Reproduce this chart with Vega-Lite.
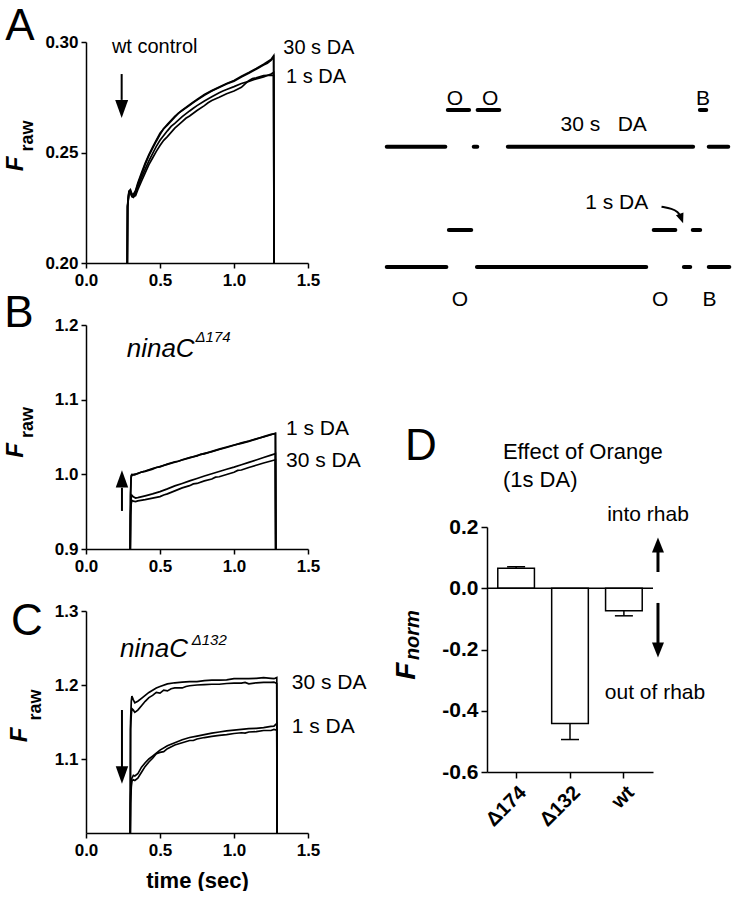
{
"$schema": "https://vega.github.io/schema/vega-lite/v6.json",
"background": "white",
"padding": {"left": 4, "top": 5, "right": 0, "bottom": 0},
"config": {
  "font": "Liberation Sans",
  "view": {"stroke": null},
  "axis": {"grid": false, "domainColor": "black", "domainWidth": 1.5, "tickColor": "black", "tickWidth": 1.5, "tickSize": 5, "labelColor": "black", "labelFont": "Liberation Sans", "labelFontWeight": "bold", "labelFontSize": 17, "labelPadding": 3, "labelFlush": false, "labelOverlap": false, "titleColor": "black", "titleFont": "Liberation Sans", "titleFontWeight": "bold", "titleFontSize": 22},
  "axisX": {"labelPadding": 4},
  "text": {"color": "black", "font": "Liberation Sans"},
  "line": {"color": "black"},
  "rule": {"color": "black"}
},
"datasets": {
  "traceA": [
    {"t":0.279,"f":0.2,"s":"30a"},{"t":0.281,"f":0.2265,"s":"30a"},{"t":0.29,"f":0.2325,"s":"30a"},{"t":0.3,"f":0.2332,"s":"30a"},{"t":0.31,"f":0.2313,"s":"30a"},{"t":0.32,"f":0.231,"s":"30a"},{"t":0.335,"f":0.2328,"s":"30a"},{"t":0.35,"f":0.2362,"s":"30a"},{"t":0.375,"f":0.2408,"s":"30a"},{"t":0.4,"f":0.2452,"s":"30a"},{"t":0.425,"f":0.249,"s":"30a"},{"t":0.45,"f":0.2524,"s":"30a"},{"t":0.475,"f":0.2556,"s":"30a"},{"t":0.5,"f":0.2587,"s":"30a"},{"t":0.55,"f":0.2628,"s":"30a"},{"t":0.6,"f":0.2664,"s":"30a"},{"t":0.65,"f":0.2692,"s":"30a"},{"t":0.7,"f":0.2716,"s":"30a"},{"t":0.75,"f":0.274,"s":"30a"},{"t":0.8,"f":0.2762,"s":"30a"},{"t":0.85,"f":0.278,"s":"30a"},{"t":0.9,"f":0.2796,"s":"30a"},{"t":0.95,"f":0.2812,"s":"30a"},{"t":1.0,"f":0.2826,"s":"30a"},{"t":1.05,"f":0.2845,"s":"30a"},{"t":1.1,"f":0.2862,"s":"30a"},{"t":1.15,"f":0.288,"s":"30a"},{"t":1.2,"f":0.2899,"s":"30a"},{"t":1.25,"f":0.2921,"s":"30a"},{"t":1.268,"f":0.2938,"s":"30a"},{"t":1.27,"f":0.2,"s":"30a"},
    {"t":0.279,"f":0.2,"s":"30b"},{"t":0.281,"f":0.2258,"s":"30b"},{"t":0.29,"f":0.2322,"s":"30b"},{"t":0.3,"f":0.2326,"s":"30b"},{"t":0.31,"f":0.2306,"s":"30b"},{"t":0.32,"f":0.2304,"s":"30b"},{"t":0.335,"f":0.2322,"s":"30b"},{"t":0.35,"f":0.2355,"s":"30b"},{"t":0.375,"f":0.24,"s":"30b"},{"t":0.4,"f":0.2446,"s":"30b"},{"t":0.425,"f":0.2486,"s":"30b"},{"t":0.45,"f":0.2519,"s":"30b"},{"t":0.475,"f":0.2551,"s":"30b"},{"t":0.5,"f":0.2581,"s":"30b"},{"t":0.525,"f":0.2608,"s":"30b"},{"t":0.55,"f":0.2624,"s":"30b"},{"t":0.6,"f":0.266,"s":"30b"},{"t":0.625,"f":0.2678,"s":"30b"},{"t":0.65,"f":0.269,"s":"30b"},{"t":0.7,"f":0.2713,"s":"30b"},{"t":0.725,"f":0.2726,"s":"30b"},{"t":0.75,"f":0.2737,"s":"30b"},{"t":0.8,"f":0.2759,"s":"30b"},{"t":0.85,"f":0.2778,"s":"30b"},{"t":0.875,"f":0.2786,"s":"30b"},{"t":0.9,"f":0.2794,"s":"30b"},{"t":0.95,"f":0.281,"s":"30b"},{"t":1.0,"f":0.2823,"s":"30b"},{"t":1.05,"f":0.2842,"s":"30b"},{"t":1.1,"f":0.2859,"s":"30b"},{"t":1.15,"f":0.2877,"s":"30b"},{"t":1.2,"f":0.2896,"s":"30b"},{"t":1.225,"f":0.2904,"s":"30b"},{"t":1.25,"f":0.2917,"s":"30b"},{"t":1.268,"f":0.2932,"s":"30b"},{"t":1.27,"f":0.2,"s":"30b"},
    {"t":0.279,"f":0.2,"s":"1a"},{"t":0.281,"f":0.2255,"s":"1a"},{"t":0.29,"f":0.2318,"s":"1a"},{"t":0.3,"f":0.232,"s":"1a"},{"t":0.31,"f":0.23,"s":"1a"},{"t":0.32,"f":0.2297,"s":"1a"},{"t":0.335,"f":0.2312,"s":"1a"},{"t":0.35,"f":0.2345,"s":"1a"},{"t":0.375,"f":0.2385,"s":"1a"},{"t":0.4,"f":0.2425,"s":"1a"},{"t":0.425,"f":0.2462,"s":"1a"},{"t":0.45,"f":0.2495,"s":"1a"},{"t":0.475,"f":0.2528,"s":"1a"},{"t":0.5,"f":0.2555,"s":"1a"},{"t":0.55,"f":0.2598,"s":"1a"},{"t":0.575,"f":0.2618,"s":"1a"},{"t":0.6,"f":0.2632,"s":"1a"},{"t":0.65,"f":0.2662,"s":"1a"},{"t":0.7,"f":0.2688,"s":"1a"},{"t":0.725,"f":0.27,"s":"1a"},{"t":0.75,"f":0.2712,"s":"1a"},{"t":0.8,"f":0.2733,"s":"1a"},{"t":0.85,"f":0.2752,"s":"1a"},{"t":0.9,"f":0.277,"s":"1a"},{"t":0.925,"f":0.2778,"s":"1a"},{"t":0.95,"f":0.2785,"s":"1a"},{"t":1.0,"f":0.2798,"s":"1a"},{"t":1.05,"f":0.2812,"s":"1a"},{"t":1.1,"f":0.2822,"s":"1a"},{"t":1.15,"f":0.2833,"s":"1a"},{"t":1.2,"f":0.2842,"s":"1a"},{"t":1.25,"f":0.2855,"s":"1a"},{"t":1.268,"f":0.2862,"s":"1a"},{"t":1.27,"f":0.2,"s":"1a"},
    {"t":0.279,"f":0.2,"s":"1b"},{"t":0.281,"f":0.2252,"s":"1b"},{"t":0.29,"f":0.2315,"s":"1b"},{"t":0.3,"f":0.2318,"s":"1b"},{"t":0.31,"f":0.2302,"s":"1b"},{"t":0.32,"f":0.23,"s":"1b"},{"t":0.335,"f":0.2305,"s":"1b"},{"t":0.35,"f":0.2332,"s":"1b"},{"t":0.375,"f":0.237,"s":"1b"},{"t":0.4,"f":0.2408,"s":"1b"},{"t":0.425,"f":0.2445,"s":"1b"},{"t":0.45,"f":0.2475,"s":"1b"},{"t":0.475,"f":0.2505,"s":"1b"},{"t":0.5,"f":0.2532,"s":"1b"},{"t":0.525,"f":0.2555,"s":"1b"},{"t":0.55,"f":0.2572,"s":"1b"},{"t":0.6,"f":0.261,"s":"1b"},{"t":0.65,"f":0.264,"s":"1b"},{"t":0.675,"f":0.2655,"s":"1b"},{"t":0.7,"f":0.2665,"s":"1b"},{"t":0.75,"f":0.269,"s":"1b"},{"t":0.8,"f":0.2712,"s":"1b"},{"t":0.825,"f":0.2725,"s":"1b"},{"t":0.85,"f":0.2735,"s":"1b"},{"t":0.9,"f":0.275,"s":"1b"},{"t":0.95,"f":0.2766,"s":"1b"},{"t":1.0,"f":0.2778,"s":"1b"},{"t":1.05,"f":0.2795,"s":"1b"},{"t":1.075,"f":0.281,"s":"1b"},{"t":1.1,"f":0.2825,"s":"1b"},{"t":1.125,"f":0.2835,"s":"1b"},{"t":1.15,"f":0.2838,"s":"1b"},{"t":1.2,"f":0.2848,"s":"1b"},{"t":1.25,"f":0.285,"s":"1b"},{"t":1.268,"f":0.2848,"s":"1b"},{"t":1.27,"f":0.2,"s":"1b"}
  ],
  "traceB": [
    {"t":0.299,"f":0.9,"s":"1a"},{"t":0.301,"f":0.975,"s":"1a"},{"t":0.305,"f":0.998,"s":"1a"},{"t":0.31,"f":1.0,"s":"1a"},{"t":0.33,"f":0.9993,"s":"1a"},{"t":0.35,"f":1.0015,"s":"1a"},{"t":0.4,"f":1.0045,"s":"1a"},{"t":0.45,"f":1.0078,"s":"1a"},{"t":0.5,"f":1.0105,"s":"1a"},{"t":0.55,"f":1.0133,"s":"1a"},{"t":0.6,"f":1.0162,"s":"1a"},{"t":0.65,"f":1.0192,"s":"1a"},{"t":0.7,"f":1.0221,"s":"1a"},{"t":0.75,"f":1.0251,"s":"1a"},{"t":0.8,"f":1.028,"s":"1a"},{"t":0.85,"f":1.0303,"s":"1a"},{"t":0.9,"f":1.0333,"s":"1a"},{"t":0.95,"f":1.036,"s":"1a"},{"t":1.0,"f":1.039,"s":"1a"},{"t":1.05,"f":1.0421,"s":"1a"},{"t":1.1,"f":1.0447,"s":"1a"},{"t":1.15,"f":1.0476,"s":"1a"},{"t":1.2,"f":1.05,"s":"1a"},{"t":1.25,"f":1.053,"s":"1a"},{"t":1.28,"f":1.0552,"s":"1a"},{"t":1.282,"f":0.9,"s":"1a"},
    {"t":0.299,"f":0.9,"s":"1b"},{"t":0.301,"f":0.97,"s":"1b"},{"t":0.305,"f":0.996,"s":"1b"},{"t":0.31,"f":0.9985,"s":"1b"},{"t":0.33,"f":1.0002,"s":"1b"},{"t":0.35,"f":1.0008,"s":"1b"},{"t":0.375,"f":1.003,"s":"1b"},{"t":0.4,"f":1.004,"s":"1b"},{"t":0.45,"f":1.007,"s":"1b"},{"t":0.475,"f":1.0092,"s":"1b"},{"t":0.5,"f":1.01,"s":"1b"},{"t":0.55,"f":1.0138,"s":"1b"},{"t":0.6,"f":1.0168,"s":"1b"},{"t":0.625,"f":1.0175,"s":"1b"},{"t":0.65,"f":1.0195,"s":"1b"},{"t":0.7,"f":1.0225,"s":"1b"},{"t":0.75,"f":1.0245,"s":"1b"},{"t":0.775,"f":1.0268,"s":"1b"},{"t":0.8,"f":1.0275,"s":"1b"},{"t":0.85,"f":1.0308,"s":"1b"},{"t":0.9,"f":1.0338,"s":"1b"},{"t":0.95,"f":1.0366,"s":"1b"},{"t":1.0,"f":1.0393,"s":"1b"},{"t":1.05,"f":1.0414,"s":"1b"},{"t":1.1,"f":1.0442,"s":"1b"},{"t":1.15,"f":1.0471,"s":"1b"},{"t":1.2,"f":1.0505,"s":"1b"},{"t":1.25,"f":1.0535,"s":"1b"},{"t":1.28,"f":1.0545,"s":"1b"},{"t":1.282,"f":0.9,"s":"1b"},
    {"t":0.299,"f":0.9,"s":"30a"},{"t":0.301,"f":0.95,"s":"30a"},{"t":0.305,"f":0.968,"s":"30a"},{"t":0.31,"f":0.972,"s":"30a"},{"t":0.32,"f":0.97,"s":"30a"},{"t":0.335,"f":0.9682,"s":"30a"},{"t":0.35,"f":0.9688,"s":"30a"},{"t":0.4,"f":0.9712,"s":"30a"},{"t":0.45,"f":0.9738,"s":"30a"},{"t":0.5,"f":0.9768,"s":"30a"},{"t":0.55,"f":0.9805,"s":"30a"},{"t":0.6,"f":0.9845,"s":"30a"},{"t":0.65,"f":0.9878,"s":"30a"},{"t":0.7,"f":0.9912,"s":"30a"},{"t":0.75,"f":0.9945,"s":"30a"},{"t":0.8,"f":0.9978,"s":"30a"},{"t":0.85,"f":1.0008,"s":"30a"},{"t":0.9,"f":1.0038,"s":"30a"},{"t":0.95,"f":1.0068,"s":"30a"},{"t":1.0,"f":1.0096,"s":"30a"},{"t":1.05,"f":1.0128,"s":"30a"},{"t":1.1,"f":1.016,"s":"30a"},{"t":1.15,"f":1.0192,"s":"30a"},{"t":1.2,"f":1.0226,"s":"30a"},{"t":1.25,"f":1.0258,"s":"30a"},{"t":1.28,"f":1.0276,"s":"30a"},{"t":1.282,"f":0.9,"s":"30a"},
    {"t":0.299,"f":0.9,"s":"30b"},{"t":0.301,"f":0.945,"s":"30b"},{"t":0.305,"f":0.96,"s":"30b"},{"t":0.31,"f":0.965,"s":"30b"},{"t":0.32,"f":0.9642,"s":"30b"},{"t":0.335,"f":0.9636,"s":"30b"},{"t":0.35,"f":0.9645,"s":"30b"},{"t":0.4,"f":0.9662,"s":"30b"},{"t":0.45,"f":0.9682,"s":"30b"},{"t":0.5,"f":0.9702,"s":"30b"},{"t":0.525,"f":0.9724,"s":"30b"},{"t":0.55,"f":0.9738,"s":"30b"},{"t":0.6,"f":0.9778,"s":"30b"},{"t":0.65,"f":0.9818,"s":"30b"},{"t":0.7,"f":0.9848,"s":"30b"},{"t":0.725,"f":0.9872,"s":"30b"},{"t":0.75,"f":0.9878,"s":"30b"},{"t":0.8,"f":0.9912,"s":"30b"},{"t":0.85,"f":0.9938,"s":"30b"},{"t":0.875,"f":0.9962,"s":"30b"},{"t":0.9,"f":0.9968,"s":"30b"},{"t":0.95,"f":0.9998,"s":"30b"},{"t":1.0,"f":1.0028,"s":"30b"},{"t":1.025,"f":1.0052,"s":"30b"},{"t":1.05,"f":1.0058,"s":"30b"},{"t":1.1,"f":1.0092,"s":"30b"},{"t":1.15,"f":1.0122,"s":"30b"},{"t":1.2,"f":1.0152,"s":"30b"},{"t":1.25,"f":1.0178,"s":"30b"},{"t":1.28,"f":1.0195,"s":"30b"},{"t":1.282,"f":0.9,"s":"30b"}
  ],
  "traceC": [
    {"t":0.299,"f":1.0,"s":"30a"},{"t":0.301,"f":1.15,"s":"30a"},{"t":0.306,"f":1.178,"s":"30a"},{"t":0.31,"f":1.185,"s":"30a"},{"t":0.32,"f":1.18,"s":"30a"},{"t":0.33,"f":1.176,"s":"30a"},{"t":0.35,"f":1.178,"s":"30a"},{"t":0.375,"f":1.182,"s":"30a"},{"t":0.4,"f":1.186,"s":"30a"},{"t":0.425,"f":1.19,"s":"30a"},{"t":0.45,"f":1.193,"s":"30a"},{"t":0.475,"f":1.196,"s":"30a"},{"t":0.5,"f":1.198,"s":"30a"},{"t":0.55,"f":1.2015,"s":"30a"},{"t":0.6,"f":1.203,"s":"30a"},{"t":0.65,"f":1.204,"s":"30a"},{"t":0.7,"f":1.2045,"s":"30a"},{"t":0.75,"f":1.2045,"s":"30a"},{"t":0.8,"f":1.206,"s":"30a"},{"t":0.85,"f":1.2065,"s":"30a"},{"t":0.9,"f":1.2065,"s":"30a"},{"t":0.95,"f":1.207,"s":"30a"},{"t":1.0,"f":1.2085,"s":"30a"},{"t":1.05,"f":1.2085,"s":"30a"},{"t":1.1,"f":1.2085,"s":"30a"},{"t":1.15,"f":1.209,"s":"30a"},{"t":1.2,"f":1.21,"s":"30a"},{"t":1.25,"f":1.209,"s":"30a"},{"t":1.27,"f":1.2085,"s":"30a"},{"t":1.289,"f":1.21,"s":"30a"},{"t":1.291,"f":1.0,"s":"30a"},
    {"t":0.299,"f":1.0,"s":"30b"},{"t":0.301,"f":1.14,"s":"30b"},{"t":0.306,"f":1.16,"s":"30b"},{"t":0.31,"f":1.168,"s":"30b"},{"t":0.32,"f":1.166,"s":"30b"},{"t":0.33,"f":1.163,"s":"30b"},{"t":0.35,"f":1.166,"s":"30b"},{"t":0.375,"f":1.172,"s":"30b"},{"t":0.4,"f":1.178,"s":"30b"},{"t":0.425,"f":1.183,"s":"30b"},{"t":0.45,"f":1.186,"s":"30b"},{"t":0.475,"f":1.19,"s":"30b"},{"t":0.5,"f":1.189,"s":"30b"},{"t":0.525,"f":1.193,"s":"30b"},{"t":0.55,"f":1.192,"s":"30b"},{"t":0.575,"f":1.195,"s":"30b"},{"t":0.6,"f":1.196,"s":"30b"},{"t":0.65,"f":1.196,"s":"30b"},{"t":0.675,"f":1.198,"s":"30b"},{"t":0.7,"f":1.199,"s":"30b"},{"t":0.75,"f":1.2,"s":"30b"},{"t":0.8,"f":1.2005,"s":"30b"},{"t":0.85,"f":1.201,"s":"30b"},{"t":0.9,"f":1.201,"s":"30b"},{"t":0.95,"f":1.202,"s":"30b"},{"t":1.0,"f":1.2025,"s":"30b"},{"t":1.05,"f":1.2025,"s":"30b"},{"t":1.075,"f":1.2035,"s":"30b"},{"t":1.1,"f":1.2015,"s":"30b"},{"t":1.15,"f":1.203,"s":"30b"},{"t":1.2,"f":1.2035,"s":"30b"},{"t":1.25,"f":1.2035,"s":"30b"},{"t":1.27,"f":1.204,"s":"30b"},{"t":1.289,"f":1.202,"s":"30b"},{"t":1.291,"f":1.0,"s":"30b"},
    {"t":0.299,"f":1.0,"s":"1a"},{"t":0.301,"f":1.05,"s":"1a"},{"t":0.306,"f":1.068,"s":"1a"},{"t":0.31,"f":1.074,"s":"1a"},{"t":0.32,"f":1.078,"s":"1a"},{"t":0.33,"f":1.077,"s":"1a"},{"t":0.35,"f":1.08,"s":"1a"},{"t":0.375,"f":1.089,"s":"1a"},{"t":0.4,"f":1.095,"s":"1a"},{"t":0.425,"f":1.1,"s":"1a"},{"t":0.45,"f":1.104,"s":"1a"},{"t":0.475,"f":1.108,"s":"1a"},{"t":0.5,"f":1.112,"s":"1a"},{"t":0.55,"f":1.118,"s":"1a"},{"t":0.6,"f":1.122,"s":"1a"},{"t":0.65,"f":1.126,"s":"1a"},{"t":0.7,"f":1.129,"s":"1a"},{"t":0.75,"f":1.131,"s":"1a"},{"t":0.8,"f":1.133,"s":"1a"},{"t":0.85,"f":1.135,"s":"1a"},{"t":0.9,"f":1.1365,"s":"1a"},{"t":0.95,"f":1.138,"s":"1a"},{"t":1.0,"f":1.139,"s":"1a"},{"t":1.05,"f":1.14,"s":"1a"},{"t":1.1,"f":1.141,"s":"1a"},{"t":1.15,"f":1.1415,"s":"1a"},{"t":1.2,"f":1.1425,"s":"1a"},{"t":1.25,"f":1.144,"s":"1a"},{"t":1.27,"f":1.1445,"s":"1a"},{"t":1.289,"f":1.148,"s":"1a"},{"t":1.291,"f":1.0,"s":"1a"},
    {"t":0.299,"f":1.0,"s":"1b"},{"t":0.301,"f":1.04,"s":"1b"},{"t":0.306,"f":1.062,"s":"1b"},{"t":0.31,"f":1.07,"s":"1b"},{"t":0.32,"f":1.072,"s":"1b"},{"t":0.33,"f":1.071,"s":"1b"},{"t":0.35,"f":1.074,"s":"1b"},{"t":0.375,"f":1.082,"s":"1b"},{"t":0.4,"f":1.09,"s":"1b"},{"t":0.425,"f":1.096,"s":"1b"},{"t":0.45,"f":1.101,"s":"1b"},{"t":0.475,"f":1.107,"s":"1b"},{"t":0.5,"f":1.109,"s":"1b"},{"t":0.525,"f":1.11,"s":"1b"},{"t":0.55,"f":1.114,"s":"1b"},{"t":0.6,"f":1.119,"s":"1b"},{"t":0.65,"f":1.122,"s":"1b"},{"t":0.7,"f":1.125,"s":"1b"},{"t":0.725,"f":1.125,"s":"1b"},{"t":0.75,"f":1.127,"s":"1b"},{"t":0.8,"f":1.129,"s":"1b"},{"t":0.85,"f":1.1305,"s":"1b"},{"t":0.9,"f":1.132,"s":"1b"},{"t":0.95,"f":1.133,"s":"1b"},{"t":1.0,"f":1.1345,"s":"1b"},{"t":1.05,"f":1.1355,"s":"1b"},{"t":1.075,"f":1.135,"s":"1b"},{"t":1.1,"f":1.1365,"s":"1b"},{"t":1.15,"f":1.137,"s":"1b"},{"t":1.2,"f":1.1385,"s":"1b"},{"t":1.25,"f":1.1385,"s":"1b"},{"t":1.27,"f":1.14,"s":"1b"},{"t":1.289,"f":1.139,"s":"1b"},{"t":1.291,"f":1.0,"s":"1b"}
  ],
  "protocol": [
    {"x":19.1,"x2":25.1,"y":10},{"x":27.5,"x2":33.6,"y":10},{"x":90.1,"x2":91.9,"y":10},
    {"x":1.9,"x2":18.4,"y":8.9},{"x":26.4,"x2":27.4,"y":8.9},{"x":36.0,"x2":88.2,"y":8.9},{"x":92.6,"x2":98.1,"y":8.9},
    {"x":19.4,"x2":25.7,"y":6.4},{"x":77.1,"x2":83.2,"y":6.4},{"x":88.1,"x2":90.2,"y":6.4},
    {"x":1.9,"x2":18.7,"y":5.29},{"x":27.3,"x2":75.0,"y":5.29},{"x":85.6,"x2":87.4,"y":5.29},{"x":92.6,"x2":98.4,"y":5.29}
  ],
  "protocolLabels": [
    {"x":21.1,"y":10.33,"label":"O"},{"x":31.0,"y":10.33,"label":"O"},{"x":91.0,"y":10.33,"label":"B"},
    {"x":63.0,"y":9.55,"label":"30 s\u00a0\u00a0\u00a0DA"},{"x":66.7,"y":7.21,"label":"1 s DA"},
    {"x":22.5,"y":4.3,"label":"O"},{"x":78.9,"y":4.3,"label":"O"},{"x":92.8,"y":4.3,"label":"B"}
  ],
  "bars": [
    {"g":"Δ174","v":0.065,"e":0.07},
    {"g":"Δ132","v":-0.442,"e":-0.494},
    {"g":"wt","v":-0.0735,"e":-0.09}
  ],
  "caps": [
    {"g":"Δ174","v":0.07},
    {"g":"Δ132","v":-0.494},
    {"g":"wt","v":-0.09}
  ]
},
"bounds": "full",
"spacing": 17,
"hconcat": [
  {
    "bounds": "flush",
    "spacing": 62,
    "vconcat": [
      {
        "width": 222, "height": 221,
        "encoding": {
          "x": {"field": "t", "type": "quantitative", "scale": {"domain": [0, 1.5]}, "axis": {"values": [0, 0.5, 1, 1.5], "format": ".1f", "title": null}},
          "y": {"field": "f", "type": "quantitative", "scale": {"domain": [0.2, 0.3]}, "axis": {"values": [0.2, 0.25, 0.3], "format": ".2f", "title": null}}
        },
        "layer": [
          {"data": {"name": "traceA"}, "mark": {"type": "line", "strokeWidth": 1.7, "color": "black"}, "encoding": {"detail": {"field": "s"}}},
          {"data": {"values": [{"t": 0.241, "f": 0.2855, "f2": 0.2738}]}, "mark": {"type": "rule", "strokeWidth": 2}, "encoding": {"y2": {"field": "f2"}}},
          {"data": {"values": [{"t": 0.241, "f": 0.2697}]}, "mark": {"type": "point", "shape": "M-0.72,-1L0.72,-1L0,1Z", "size": 324, "filled": true, "color": "black", "opacity": 1}},
          {"data": {"values": [{"t": 0.464, "f": 0.2979}]}, "mark": {"type": "text", "text": "wt control", "fontSize": 20, "align": "center", "baseline": "middle"}},
          {"data": {"values": [{"t": 1.333, "f": 0.2971, "label": "30 s DA"}, {"t": 1.351, "f": 0.2843, "label": "1 s DA"}]}, "mark": {"type": "text", "fontSize": 20, "align": "left", "baseline": "middle"}, "encoding": {"text": {"field": "label"}}},
          {"data": {"values": [{"t": -0.472, "f": 0.2448}]}, "mark": {"type": "text", "text": "F", "fontSize": 24, "fontWeight": "bold", "fontStyle": "italic", "angle": 270, "align": "center", "baseline": "middle"}},
          {"data": {"values": [{"t": -0.39, "f": 0.2575}]}, "mark": {"type": "text", "text": "raw", "fontSize": 18, "fontWeight": "bold", "angle": 270, "align": "center", "baseline": "middle"}},
          {"data": {"values": [{"t": -0.446, "f": 0.30674}]}, "mark": {"type": "text", "text": "A", "fontSize": 44, "align": "center", "baseline": "middle"}}
        ]
      },
      {
        "width": 222, "height": 224,
        "encoding": {
          "x": {"field": "t", "type": "quantitative", "scale": {"domain": [0, 1.5]}, "axis": {"values": [0, 0.5, 1, 1.5], "format": ".1f", "title": null}},
          "y": {"field": "f", "type": "quantitative", "scale": {"domain": [0.9, 1.2]}, "axis": {"values": [0.9, 1.0, 1.1, 1.2], "format": ".1f", "title": null}}
        },
        "layer": [
          {"data": {"name": "traceB"}, "mark": {"type": "line", "strokeWidth": 1.7, "color": "black"}, "encoding": {"detail": {"field": "s"}}},
          {"data": {"values": [{"t": 0.243, "f": 0.951, "f2": 0.982}]}, "mark": {"type": "rule", "strokeWidth": 2}, "encoding": {"y2": {"field": "f2"}}},
          {"data": {"values": [{"t": 0.243, "f": 0.994}]}, "mark": {"type": "point", "shape": "M-0.72,1L0.72,1L0,-1Z", "size": 300, "filled": true, "color": "black", "opacity": 1}},
          {"data": {"values": [{"t": 0.275, "f": 1.1574}]}, "mark": {"type": "text", "text": "ninaC", "fontSize": 26, "fontStyle": "italic", "align": "left", "baseline": "alphabetic"}},
          {"data": {"values": [{"t": 0.74, "f": 1.1775}]}, "mark": {"type": "text", "text": "Δ174", "fontSize": 15, "fontStyle": "italic", "align": "left", "baseline": "alphabetic"}},
          {"data": {"values": [{"t": 1.351, "f": 1.061, "label": "1 s DA"}, {"t": 1.351, "f": 1.0183, "label": "30 s DA"}]}, "mark": {"type": "text", "fontSize": 21, "align": "left", "baseline": "middle"}, "encoding": {"text": {"field": "label"}}},
          {"data": {"values": [{"t": -0.472, "f": 1.032}]}, "mark": {"type": "text", "text": "F", "fontSize": 24, "fontWeight": "bold", "fontStyle": "italic", "angle": 270, "align": "center", "baseline": "middle"}},
          {"data": {"values": [{"t": -0.39, "f": 1.0695}]}, "mark": {"type": "text", "text": "raw", "fontSize": 18, "fontWeight": "bold", "angle": 270, "align": "center", "baseline": "middle"}},
          {"data": {"values": [{"t": -0.453, "f": 1.2148}]}, "mark": {"type": "text", "text": "B", "fontSize": 44, "align": "center", "baseline": "middle"}}
        ]
      },
      {
        "width": 222, "height": 222,
        "encoding": {
          "x": {"field": "t", "type": "quantitative", "scale": {"domain": [0, 1.5]}, "axis": {"values": [0, 0.5, 1, 1.5], "format": ".1f", "title": "time (sec)", "titlePadding": 12}},
          "y": {"field": "f", "type": "quantitative", "scale": {"domain": [1.0, 1.3]}, "axis": {"values": [1.1, 1.2, 1.3], "format": ".1f", "title": null}}
        },
        "layer": [
          {"data": {"name": "traceC"}, "mark": {"type": "line", "strokeWidth": 1.7, "color": "black"}, "encoding": {"detail": {"field": "s"}}},
          {"data": {"values": [{"t": 0.243, "f": 1.1662, "f2": 1.0892}]}, "mark": {"type": "rule", "strokeWidth": 2}, "encoding": {"y2": {"field": "f2"}}},
          {"data": {"values": [{"t": 0.243, "f": 1.0784}]}, "mark": {"type": "point", "shape": "M-0.72,-1L0.72,-1L0,1Z", "size": 300, "filled": true, "color": "black", "opacity": 1}},
          {"data": {"values": [{"t": 0.23, "f": 1.2383}]}, "mark": {"type": "text", "text": "ninaC", "fontSize": 26, "fontStyle": "italic", "align": "left", "baseline": "alphabetic"}},
          {"data": {"values": [{"t": 0.714, "f": 1.254}]}, "mark": {"type": "text", "text": "Δ132", "fontSize": 15, "fontStyle": "italic", "align": "left", "baseline": "alphabetic"}},
          {"data": {"values": [{"t": 1.39, "f": 1.2023, "label": "30 s DA"}, {"t": 1.39, "f": 1.1436, "label": "1 s DA"}]}, "mark": {"type": "text", "fontSize": 21, "align": "left", "baseline": "middle"}, "encoding": {"text": {"field": "label"}}},
          {"data": {"values": [{"t": -0.443, "f": 1.1324}]}, "mark": {"type": "text", "text": "F", "fontSize": 24, "fontWeight": "bold", "fontStyle": "italic", "angle": 270, "align": "center", "baseline": "middle"}},
          {"data": {"values": [{"t": -0.338, "f": 1.173}]}, "mark": {"type": "text", "text": "raw", "fontSize": 18, "fontWeight": "bold", "angle": 270, "align": "center", "baseline": "middle"}},
          {"data": {"values": [{"t": -0.399, "f": 1.285}]}, "mark": {"type": "text", "text": "C", "fontSize": 44, "align": "center", "baseline": "middle"}}
        ]
      }
    ]
  },
  {
    "bounds": "flush",
    "spacing": 217,
    "center": true,
    "vconcat": [
      {
        "width": 330, "height": 268,
        "encoding": {
          "x": {"field": "x", "type": "quantitative", "scale": {"domain": [7.04, 100]}, "axis": null},
          "y": {"field": "y", "type": "quantitative", "scale": {"domain": [4, 12.04]}, "axis": null}
        },
        "layer": [
          {"data": {"name": "protocol"}, "mark": {"type": "rule", "strokeWidth": 4, "strokeCap": "round"}, "encoding": {"x2": {"field": "x2"}}},
          {"data": {"name": "protocolLabels"}, "mark": {"type": "text", "fontSize": 21, "align": "center", "baseline": "middle"}, "encoding": {"text": {"field": "label"}}},
          {"data": {"values": [{"x": 79.3, "y": 7.1}, {"x": 82.3, "y": 7.04}, {"x": 83.9, "y": 6.94}, {"x": 84.6, "y": 6.82}]}, "mark": {"type": "line", "interpolate": "basis", "strokeWidth": 2}},
          {"data": {"values": [{"x": 84.9, "y": 6.74}]}, "mark": {"type": "point", "shape": "M-0.8,-1L0.8,-1L0,1Z", "size": 100, "angle": 340, "filled": true, "opacity": 1, "color": "black"}}
        ]
      },
      {
        "width": 166, "height": 245,
        "encoding": {
          "y": {"field": "v", "type": "quantitative", "scale": {"domain": [-0.6, 0.2]}, "axis": {"values": [-0.6, -0.4, -0.2, 0, 0.2], "format": ".1f", "labelExpr": "replace(datum.label, '\u2212', '-')", "title": null, "labelFontSize": 21, "tickSize": 6}}
        },
        "layer": [
          {
            "encoding": {"x": {"field": "g", "type": "nominal", "sort": null, "scale": {"paddingInner": 0.32, "paddingOuter": 0.2}, "axis": {"title": null, "labelAngle": -45, "labelFontSize": 20, "tickSize": 6, "labelPadding": 4}}},
            "layer": [
              {"data": {"name": "bars"}, "mark": {"type": "bar", "fill": "white", "stroke": "black", "strokeWidth": 1.5}},
              {"data": {"name": "bars"}, "mark": {"type": "rule", "strokeWidth": 1.5}, "encoding": {"y2": {"field": "e"}}},
              {"data": {"name": "caps"}, "mark": {"type": "tick", "size": 18, "thickness": 1.5, "color": "black", "opacity": 1}}
            ]
          },
          {"data": {"values": [{"v": 0}]}, "mark": {"type": "rule", "strokeWidth": 1.5}},
          {
            "encoding": {"x": {"field": "p", "type": "quantitative", "scale": {"domain": [0, 1]}, "axis": null}},
            "layer": [
              {"data": {"values": [{"p": -0.398, "v": 0.461}]}, "mark": {"type": "text", "text": "D", "fontSize": 44, "align": "center", "baseline": "middle"}},
              {"data": {"values": [{"p": 0.096, "v": 0.445, "label": "Effect of Orange"}, {"p": 0.096, "v": 0.354, "label": "(1s DA)"}]}, "mark": {"type": "text", "fontSize": 22, "align": "left", "baseline": "middle"}, "encoding": {"text": {"field": "label"}}},
              {"data": {"values": [{"p": 0.97, "v": 0.239, "label": "into rhab"}, {"p": 1.012, "v": -0.342, "label": "out of rhab"}]}, "mark": {"type": "text", "fontSize": 21, "align": "center", "baseline": "middle"}, "encoding": {"text": {"field": "label"}}},
              {"data": {"values": [{"p": 1.03, "v": 0.053, "v2": 0.125}, {"p": 1.03, "v": -0.048, "v2": -0.179}]}, "mark": {"type": "rule", "strokeWidth": 3}, "encoding": {"y2": {"field": "v2"}}},
              {"data": {"values": [{"p": 1.03, "v": 0.141}]}, "mark": {"type": "point", "shape": "M-0.8,1L0.8,1L0,-1Z", "size": 225, "filled": true, "color": "black", "opacity": 1}},
              {"data": {"values": [{"p": 1.03, "v": -0.202}]}, "mark": {"type": "point", "shape": "M-0.8,-1L0.8,-1L0,1Z", "size": 225, "filled": true, "color": "black", "opacity": 1}},
              {"data": {"values": [{"p": -0.479, "v": -0.271}]}, "mark": {"type": "text", "text": "F", "fontSize": 28, "fontWeight": "bold", "fontStyle": "italic", "angle": 270, "align": "center", "baseline": "middle"}},
              {"data": {"values": [{"p": -0.446, "v": -0.153}]}, "mark": {"type": "text", "text": "norm", "fontSize": 20, "fontWeight": "bold", "fontStyle": "italic", "angle": 270, "align": "center", "baseline": "middle"}}
            ]
          }
        ],
        "resolve": {"scale": {"x": "independent"}, "axis": {"x": "independent"}}
      }
    ]
  }
]
}
